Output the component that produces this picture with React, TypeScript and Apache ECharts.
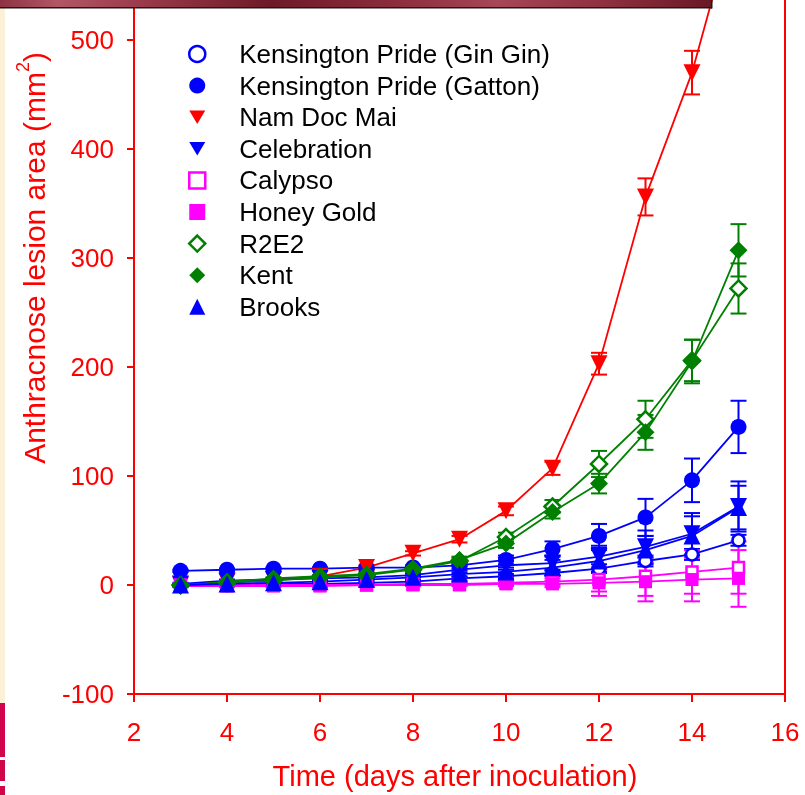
import React, { useEffect, useRef } from "react";
import * as echarts from "echarts";

// ---- data ----
const DAYS = [3, 4, 5, 6, 7, 8, 9, 10, 11, 12, 13, 14, 15];
const SERIES_NAMES = [
  "Kensington Pride (Gin Gin)",
  "Kensington Pride (Gatton)",
  "Nam Doc Mai",
  "Celebration",
  "Calypso",
  "Honey Gold",
  "R2E2",
  "Kent",
  "Brooks",
];
const KP_GIN_GIN = [0, 0, 1, 1, 2, 3, 6, 8, 11, 15, 22, 28, 41];
const KP_GIN_GIN_ERR = [1, 1, 1, 1, 1, 1, 2, 2, 3, 4, 5, 5, 5];
const KP_GATTON = [13, 14, 15, 15, 16, 16, 18, 23, 33, 45, 62, 96, 145];
const KP_GATTON_ERR = [1, 1, 1, 1, 1, 2, 3, 4, 7, 11, 17, 20, 24];
const NAM_DOC_MAI = [0, 3, 5, 8, 16, 29, 42, 68, 107, 203, 356, 470, 625];
const NAM_DOC_MAI_ERR = [1, 1, 1, 1, 2, 2, 3, 4, 6, 10, 17, 20, 25];
const CELEBRATION = [1, 4, 5, 6, 7, 9, 14, 18, 20, 26, 35, 47, 72];
const CELEBRATION_ERR = [1, 1, 1, 1, 1, 2, 3, 4, 7, 10, 15, 19, 23];
const CALYPSO = [0, 0, 0, 0, 0, 1, 1, 2, 3, 5, 8, 12, 16];
const CALYPSO_ERR = [1, 1, 1, 1, 1, 1, 1, 2, 3, 11, 18, 20, 24];
const HONEY_GOLD = [-1, -1, -1, -1, 0, 0, 0, 1, 1, 2, 3, 5, 6];
const HONEY_GOLD_ERR = [1, 1, 1, 1, 1, 1, 1, 2, 3, 12, 18, 20, 26];
const R2E2 = [0, 2, 4, 7, 9, 14, 22, 44, 72, 111, 152, 206, 272];
const R2E2_ERR = [1, 1, 1, 1, 2, 2, 3, 4, 6, 12, 17, 19, 23];
const KENT = [-1, 3, 6, 8, 10, 15, 23, 38, 67, 93, 140, 205, 307];
const KENT_ERR = [1, 1, 1, 1, 2, 2, 3, 4, 6, 9, 16, 20, 24];
const BROOKS = [0, 1, 2, 3, 5, 7, 10, 12, 16, 22, 32, 45, 71];
const BROOKS_ERR = [1, 1, 1, 1, 1, 2, 3, 4, 7, 10, 13, 18, 20];

const X_MIN = 2;
const X_MAX = 16;
const X_STEP = 2;
const Y_MIN = -100;
const Y_MAX = 700;
const Y_STEP = 100;

const X_TITLE = "Time (days after inoculation)";
const Y_TITLE_MAIN = "Anthracnose lesion area (mm";
const Y_TITLE_SUP = "2";

// ---- styles ----
const FONT = '"Liberation Sans", Arial, Helvetica, sans-serif';
const RED = "#ff0000";
const BLUE = "#0000ff";
const MAGENTA = "#ff00ff";
const GREEN = "#008000";
const DOWN_TRI = "path://M0,0L20,0L10,17Z";
const OFF = 200; // the chart div starts 200px above the page (plot continues above the picture)
const PX_PER_UNIT = 654.3 / 600;
const ZERO_Y = 585.25;
const AXIS_Y = 694.3;

export default function App() {
  const ref = useRef<HTMLDivElement>(null);

  useEffect(() => {
    const el = ref.current;
    if (!el) return;
    const chart = echarts.init(el, undefined, { renderer: "svg" });

    const defs = [
      { name: SERIES_NAMES[0], values: KP_GIN_GIN, errors: KP_GIN_GIN_ERR, color: BLUE, symbol: "circle", size: 12, open: true, rotate: 0, icon: "circle" },
      { name: SERIES_NAMES[1], values: KP_GATTON, errors: KP_GATTON_ERR, color: BLUE, symbol: "circle", size: 16, open: false, rotate: 0, icon: "circle" },
      { name: SERIES_NAMES[2], values: NAM_DOC_MAI, errors: NAM_DOC_MAI_ERR, color: RED, symbol: "triangle", size: 17, open: false, rotate: 180, icon: DOWN_TRI },
      { name: SERIES_NAMES[3], values: CELEBRATION, errors: CELEBRATION_ERR, color: BLUE, symbol: "triangle", size: 17, open: false, rotate: 180, icon: DOWN_TRI },
      { name: SERIES_NAMES[4], values: CALYPSO, errors: CALYPSO_ERR, color: MAGENTA, symbol: "rect", size: 11, open: true, rotate: 0, icon: "rect" },
      { name: SERIES_NAMES[5], values: HONEY_GOLD, errors: HONEY_GOLD_ERR, color: MAGENTA, symbol: "rect", size: 13, open: false, rotate: 0, icon: "rect" },
      { name: SERIES_NAMES[6], values: R2E2, errors: R2E2_ERR, color: GREEN, symbol: "diamond", size: 16, open: true, rotate: 0, icon: "diamond" },
      { name: SERIES_NAMES[7], values: KENT, errors: KENT_ERR, color: GREEN, symbol: "diamond", size: 18, open: false, rotate: 0, icon: "diamond" },
      { name: SERIES_NAMES[8], values: BROOKS, errors: BROOKS_ERR, color: BLUE, symbol: "triangle", size: 17, open: false, rotate: 0, icon: "triangle" },
    ];

    const errorSeries = defs.map((d) => ({
      type: "custom",
      name: d.name + " SE",
      silent: true,
      clip: true,
      encode: { x: 0, y: [1, 2] },
      data: DAYS.map((day, i) => [day, d.values[i] - d.errors[i], d.values[i] + d.errors[i]]),
      renderItem: (params: any, api: any) => {
        const x = api.value(0);
        const lo = api.coord([x, api.value(1)]);
        const hi = api.coord([x, api.value(2)]);
        const w = 8;
        const style = { stroke: d.color, lineWidth: 2 };
        return {
          type: "group",
          children: [
            { type: "line", shape: { x1: lo[0], y1: lo[1], x2: hi[0], y2: hi[1] }, style },
            { type: "line", shape: { x1: lo[0] - w, y1: lo[1], x2: lo[0] + w, y2: lo[1] }, style },
            { type: "line", shape: { x1: hi[0] - w, y1: hi[1], x2: hi[0] + w, y2: hi[1] }, style },
          ],
        };
      },
      z: 2,
    }));

    const lineSeries = defs.map((d) => ({
      type: "line",
      name: d.name,
      data: DAYS.map((day, i) => [day, d.values[i]]),
      symbol: d.symbol,
      symbolSize: d.size,
      symbolRotate: d.rotate,
      showAllSymbol: true,
      clip: true,
      lineStyle: { color: d.color, width: 1.8 },
      itemStyle: d.open
        ? { color: "#ffffff", borderColor: d.color, borderWidth: 2.5 }
        : { color: d.color, borderColor: d.color, borderWidth: 0 },
      emphasis: { disabled: true },
      z: 3,
    }));

    const series: any[] = [];
    defs.forEach((_, i) => {
      series.push(errorSeries[i]);
      series.push(lineSeries[i]);
    });

    const option: any = {
      animation: false,
      grid: {
        left: 134,
        right: 20,
        top: ZERO_Y - Y_MAX * PX_PER_UNIT + OFF,
        bottom: 795 + OFF - (AXIS_Y + OFF),
        show: true,
        borderColor: RED,
        borderWidth: 2,
        backgroundColor: "transparent",
      },
      xAxis: {
        type: "value",
        min: X_MIN,
        max: X_MAX,
        interval: X_STEP,
        name: X_TITLE,
        nameLocation: "middle",
        nameGap: 67,
        nameTextStyle: { color: RED, fontSize: 29, fontFamily: FONT, padding: [0, 9, 0, 0] },
        axisLine: { onZero: false, lineStyle: { color: RED, width: 2 } },
        axisTick: { inside: false, length: 8, lineStyle: { color: RED, width: 2 } },
        axisLabel: { color: RED, fontSize: 26, fontFamily: FONT, margin: 25 },
        splitLine: { show: false },
      },
      yAxis: {
        type: "value",
        min: Y_MIN,
        max: Y_MAX,
        interval: Y_STEP,
        name: `{a|${Y_TITLE_MAIN}}{s|${Y_TITLE_SUP}}{a|)}`,
        nameLocation: "middle",
        nameRotate: 90,
        nameGap: 80,
        nameTextStyle: {
          color: RED,
          fontSize: 30,
          fontFamily: FONT,
          rich: {
            a: { color: RED, fontSize: 30, fontFamily: FONT, lineHeight: 40 },
            s: { color: RED, fontSize: 18, fontFamily: FONT, lineHeight: 18, verticalAlign: "top" },
          },
        },
        axisLine: { show: true, onZero: false, lineStyle: { color: RED, width: 2 } },
        axisTick: { show: true, inside: false, length: 7, lineStyle: { color: RED, width: 2 } },
        axisLabel: {
          color: RED,
          fontSize: 26,
          fontFamily: FONT,
          margin: 20,
          formatter: (v: number) => (v > 500 ? "" : String(v)),
        },
        splitLine: { show: false },
      },
      legend: {
        orient: "vertical",
        left: 183,
        top: 36 + OFF,
        itemWidth: 16,
        itemHeight: 16,
        itemGap: 5.6,
        selectedMode: false,
        textStyle: { color: "#000", fontSize: 26, fontFamily: FONT, lineHeight: 26, padding: [0, 0, 0, 29] },
        data: defs.map((d) => ({
          name: d.name,
          icon: d.icon,
          itemStyle: d.open
            ? { color: "#ffffff", borderColor: d.color, borderWidth: 2.5 }
            : { color: d.color, borderColor: d.color, borderWidth: 0 },
        })),
      },
      graphic: [
        // cream strip on the left edge
        { type: "rect", z: 100, shape: { x: 0, y: 0, width: 5, height: 703 + OFF }, style: { fill: "#fcf0d8" } },
        // crimson pieces at the bottom left
        { type: "rect", z: 100, shape: { x: 0, y: 703 + OFF, width: 5, height: 54 }, style: { fill: "#d1034b" } },
        { type: "rect", z: 100, shape: { x: 0, y: 760 + OFF, width: 5, height: 21 }, style: { fill: "#d1034b" } },
        { type: "rect", z: 100, shape: { x: 0, y: 786 + OFF, width: 5, height: 9 }, style: { fill: "#d1034b" } },
        // dark red banner at the top
        {
          type: "rect",
          z: 101,
          shape: { x: 0, y: 0, width: 711, height: OFF + 7 },
          style: {
            fill: new echarts.graphic.LinearGradient(0, 0, 1, 0, [
              { offset: 0, color: "#8c3242" },
              { offset: 0.08, color: "#b25666" },
              { offset: 0.2, color: "#9a3a4a" },
              { offset: 0.38, color: "#6e1a28" },
              { offset: 0.55, color: "#8a2c3c" },
              { offset: 0.7, color: "#a64656" },
              { offset: 0.85, color: "#8e3040" },
              { offset: 1, color: "#6a1826" },
            ]),
          },
        },
        { type: "rect", z: 102, shape: { x: 0, y: OFF + 7, width: 712, height: 1.5 }, style: { fill: "#1a1a1a" } },
        { type: "rect", z: 102, shape: { x: 711, y: 0, width: 1.5, height: OFF + 8.5 }, style: { fill: "#1a1a1a" } },
      ],
      series,
    };

    chart.setOption(option);
    return () => chart.dispose();
  }, []);

  return (
    <div
      ref={ref}
      style={{ position: "fixed", left: 0, top: -OFF, width: 805, height: 795 + OFF }}
    />
  );
}
